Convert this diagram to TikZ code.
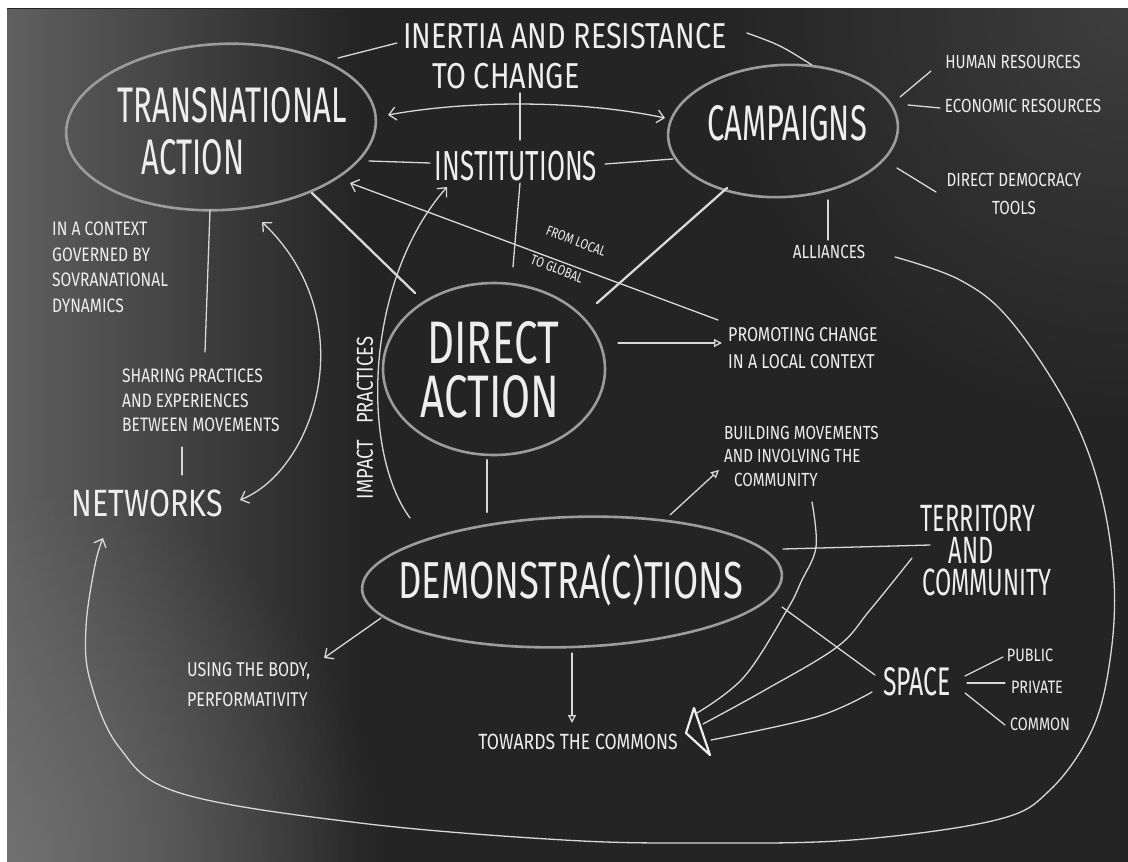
\documentclass[tikz,border=0pt]{standalone}
\usepackage{fontspec}
\setmainfont{Fira Sans}
\newfontfamily\chalkbig{Fira Sans}[FakeStretch=0.62]
\newfontfamily\chalkmid{Fira Sans}[FakeStretch=0.7]
\newfontfamily\chalksmall{Fira Sans}[FakeStretch=0.8]
\usetikzlibrary{shapes.geometric,arrows.meta,fadings}

\definecolor{board}{HTML}{242424}
\definecolor{chalk}{HTML}{EEEEEE}
\definecolor{chalkline}{HTML}{D8D8D8}
\definecolor{ringline}{HTML}{9C9C9C}
\definecolor{glow}{HTML}{7A7A7A}

\tikzfading[name=leftglow, left color=transparent!30, right color=transparent!100]
\tikzfading[name=cornerglow, inner color=transparent!35, outer color=transparent!100]

\tikzset{
  ring/.style={draw=ringline, line width=2.6pt, ellipse, inner sep=0pt},
  bigtxt/.style={text=chalk, inner sep=0pt, font=\chalkbig\fontsize{#1}{#1}\selectfont},
  midtxt/.style={text=chalk, inner sep=0pt, font=\chalkmid\fontsize{#1}{#1}\selectfont},
  widetxt/.style={text=chalk, inner sep=0pt, font=\chalksmall\fontsize{#1}{#1}\selectfont},
  smalltxt/.style 2 args={text=chalk, inner sep=0pt, align=left,
    font=\chalksmall\fontsize{#1}{#2}\selectfont},
  link/.style={draw=chalkline, line width=1.3pt, line cap=round},
  heavy/.style={draw=chalkline, line width=2.3pt, line cap=round},
  barb/.tip={Straight Barb[length=7pt,width=13pt,line width=1.3pt]},
  openhead/.tip={Triangle[open,length=8pt,width=8pt,line width=1.3pt]},
}

\begin{document}
\begin{tikzpicture}[x=1pt,y=-1pt]
\useasboundingbox (0,0) rectangle (1128,862);

% ---- board ----
\fill[white] (0,0) rectangle (1128,862);
\fill[board] (7,8) rectangle (1128,862);
\begin{scope}
  \clip (7,8) rectangle (1128,862);
  \fill[glow, path fading=leftglow, fit fading=true] (7,8) rectangle (360,862);
  \fill[glow, path fading=cornerglow, fit fading=true] (7,862) circle (380);
  \fill[color=gray!60!black, path fading=cornerglow, fit fading=true] (1128,8) circle (420);
\end{scope}

% ---- main ellipses ----
\node[ring, minimum width=310, minimum height=166, rotate=3] (trans) at (221,127) {};
\node[ring, minimum width=230, minimum height=132, rotate=3] (camp) at (783,131) {};
\node[ring, minimum width=222, minimum height=172] (direct) at (494,369) {};
\node[ring, minimum width=420, minimum height=130, rotate=2] (demo) at (572,582) {};

% ---- headings inside ellipses ----
\node[bigtxt=50] (transA) at (232,105) {TRANSNATIONAL};
\node[bigtxt=50] (transB) at (193,157) {ACTION};
\node[bigtxt=50] (campT) at (787,123) {CAMPAIGNS};
\node[midtxt=60] (directA) at (493,343) {DIRECT};
\node[midtxt=60] (directB) at (490,397) {ACTION};
\node[midtxt=52] (demoT) at (571,580) {DEMONSTRA(C)TIONS};

% ---- other large labels ----
\node[widetxt=36] (inertiaA) at (565,36) {INERTIA AND RESISTANCE};
\node[widetxt=36] (inertiaB) at (506,76) {TO CHANGE};
\node[bigtxt=42] (inst) at (516,166) {INSTITUTIONS};
\node[widetxt=38] (netw) at (147,503) {NETWORKS};
\node[bigtxt=38] (terrA) at (978,518) {TERRITORY};
\node[bigtxt=38] (terrB) at (971,550) {AND};
\node[bigtxt=38] (terrC) at (987,582) {COMMUNITY};
\node[bigtxt=40] (space) at (917,682) {SPACE};

% ---- small labels ----
\node[smalltxt={19}{25}] (human) at (1013,62) {HUMAN RESOURCES};
\node[smalltxt={19}{25}] (econ) at (1023,106) {ECONOMIC RESOURCES};
\node[smalltxt={19}{28}, align=center] (ddt) at (1014,194) {DIRECT DEMOCRACY\\TOOLS};
\node[smalltxt={19}{25}] (alli) at (829,252) {ALLIANCES};
\node[smalltxt={19.5}{25.5}, anchor=north west] (context) at (52,222)
  {IN A CONTEXT\\GOVERNED BY\\SOVRANATIONAL\\DYNAMICS};
\node[smalltxt={19.5}{24.5}, anchor=north west] (sharing) at (122,369)
  {SHARING PRACTICES\\AND EXPERIENCES\\BETWEEN MOVEMENTS};
\node[smalltxt={20}{27}, anchor=west] (promo) at (728,348)
  {PROMOTING CHANGE\\IN A LOCAL CONTEXT};
\node[smalltxt={19}{23.5}, anchor=west] (build) at (724,456)
  {BUILDING MOVEMENTS\\AND INVOLVING THE\\\hspace*{10pt}COMMUNITY};
\node[smalltxt={20}{30}, anchor=west] (body) at (187,685)
  {USING THE BODY,\\PERFORMATIVITY};
\node[smalltxt={22}{25}] (towards) at (578,742) {TOWARDS THE COMMONS};
\node[smalltxt={18}{25}] (public) at (1030,655) {PUBLIC};
\node[smalltxt={18}{25}] (private) at (1037,687) {PRIVATE};
\node[smalltxt={18}{25}] (common) at (1040,724) {COMMON};
\node[smalltxt={14}{14}, rotate=-21] (localA) at (576,241) {FROM LOCAL};
\node[smalltxt={14}{14}, rotate=-21] (localB) at (557,269) {TO GLOBAL};
\node[smalltxt={23}{25}, rotate=90] (impact) at (365,418) {IMPACT\hspace{16pt}PRACTICES};

% ---- connector end points ----
\coordinate (tI) at (338,58);   \coordinate (iT) at (397,43);
\coordinate (iC) at (747,33);   \coordinate (cI) at (812,65);
\coordinate (tC) at (388,115);  \coordinate (cT) at (665,118);
\coordinate (tN) at (369,161);  \coordinate (nT) at (430,163);
\coordinate (nC) at (605,164);  \coordinate (cN) at (673,159);
\coordinate (vA) at (520,93);   \coordinate (vB) at (520,140);
\coordinate (vC) at (520,183);  \coordinate (vD) at (513,267);
\coordinate (tD) at (312,193);  \coordinate (dT) at (415,293);
\coordinate (dC) at (597,303);  \coordinate (cD) at (727,188);
\coordinate (gA) at (718,320);  \coordinate (gB) at (350,183);
\coordinate (dP) at (618,343);  \coordinate (pD) at (722,343);
\coordinate (dM) at (487,460);  \coordinate (mD) at (487,512);
\coordinate (tS) at (210,210);  \coordinate (sT) at (205,352);
\coordinate (sN) at (182,447);  \coordinate (nS) at (182,475);
\coordinate (nwA) at (240,500); \coordinate (nwB) at (262,222);
\coordinate (ipA) at (410,518); \coordinate (ipB) at (447,187);
\coordinate (cH) at (900,97);   \coordinate (hC) at (931,71);
\coordinate (cE) at (908,105);  \coordinate (eC) at (940,108);
\coordinate (cDD) at (897,168); \coordinate (ddC) at (936,192);
\coordinate (cA) at (828,200);  \coordinate (aC) at (828,240);
\coordinate (mB) at (670,515);  \coordinate (bM) at (719,470);
\coordinate (mU) at (381,618);  \coordinate (uM) at (324,658);
\coordinate (mT) at (572,653);  \coordinate (tM) at (572,723);
\coordinate (mR) at (783,549);  \coordinate (rM) at (930,545);
\coordinate (mS) at (782,607);  \coordinate (sM) at (875,675);
\coordinate (spP) at (965,676); \coordinate (pS) at (1003,657);
\coordinate (spV) at (967,683); \coordinate (vS) at (1005,683);
\coordinate (spC) at (965,693); \coordinate (oS) at (1005,725);
\coordinate (triTip) at (686,733);
\coordinate (triTop) at (694,708);
\coordinate (triBot) at (710,755);

% ---- connectors ----
\draw[link] (tI) -- (iT);
\draw[link] (iC) .. controls (780,45) .. (cI);
\draw[link, barb-barb] (tC) .. controls (470,100) and (580,100) .. (cT);
\draw[link] (tN) -- (nT);
\draw[link] (nC) -- (cN);
\draw[link] (vA) -- (vB);
\draw[link] (vC) -- (vD);
\draw[heavy] (tD) -- (dT);
\draw[heavy] (dC) -- (cD);
\draw[link, -barb] (gA) -- (gB);
\draw[link, -openhead] (dP) -- (pD);
\draw[heavy] (dM) -- (mD);
\draw[link] (tS) -- (sT);
\draw[link] (sN) -- (nS);
\draw[link, barb-barb] (nwA) .. controls (315,470) and (365,320) .. (nwB);
\draw[link, -barb] (ipA) .. controls (360,450) and (365,280) .. (ipB);
\draw[link] (cH) -- (hC);
\draw[link] (cE) -- (eC);
\draw[link] (cDD) -- (ddC);
\draw[link] (cA) -- (aC);
\draw[link, -openhead] (mB) -- (bM);
\draw[link, -barb] (mU) -- (uM);
\draw[link, -openhead] (mT) -- (tM);
\draw[link] (mR) -- (rM);
\draw[link] (mS) -- (sM);
\draw[link] (spP) -- (pS);
\draw[link] (spV) -- (vS);
\draw[link] (spC) -- (oS);

% three strands gathering into one open head
\draw[link] plot[smooth, tension=0.6] coordinates
  {(812,502) (816,547) (801,582) (787,610) (744,677) (697,713)};
\draw[link] plot[smooth, tension=0.6] coordinates
  {(912,558) (870,610) (837,647) (765,690) (703,724)};
\draw[link] plot[smooth, tension=0.6] coordinates
  {(872,692) (816,717) (711,740)};
\draw[draw=chalk, line width=2.2pt, line join=round] (triTip) -- (triTop) -- (triBot) -- cycle;

% long loop from alliances back to networks
\draw[link, -barb] plot[smooth, tension=0.6] coordinates
  {(895,257) (960,280) (1010,320) (1068,407) (1100,490) (1114,580) (1110,660)
   (1092,730) (1050,790) (996,820) (852,840) (700,843) (564,840) (360,823)
   (180,793) (119,747) (90,680) (86,627) (95,565) (103,538)};

\end{tikzpicture}
\end{document}
